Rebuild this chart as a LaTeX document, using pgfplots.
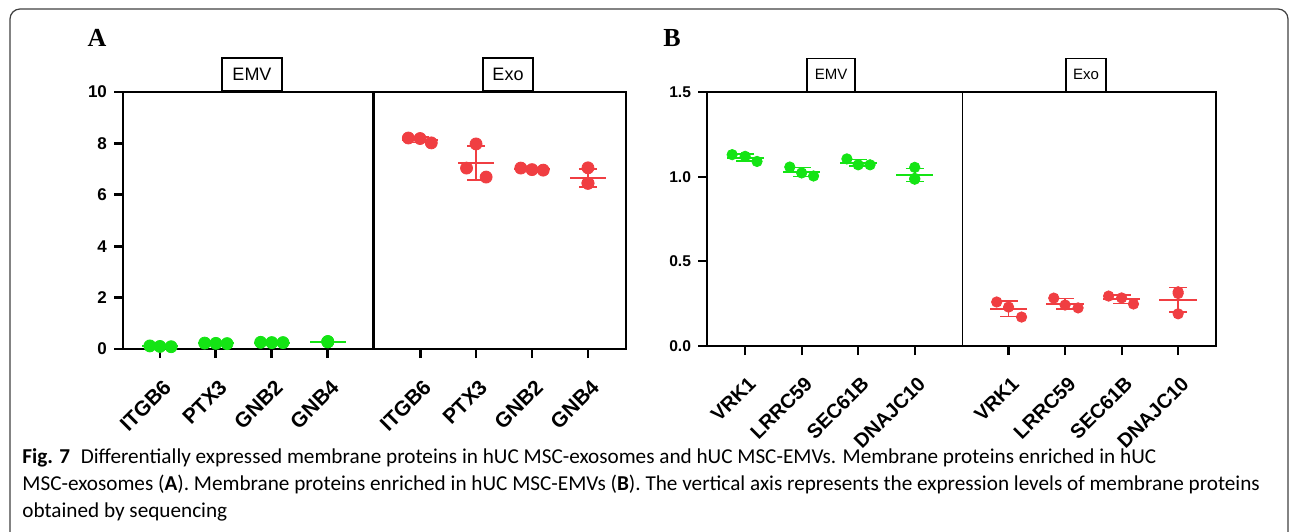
\documentclass[border=0pt]{standalone}
\usepackage{fontspec}
\setmainfont{Liberation Sans}
\newfontfamily\capfont{Carlito}
\newfontfamily\letterfont{Liberation Serif}
\usepackage{pgfplots}
\pgfplotsset{compat=1.18}

\definecolor{emvgreen}{RGB}{20,228,20}
\definecolor{exored}{RGB}{240,62,66}

\pgfplotsset{
  panel/.style={
    scale only axis, clip=false,
    axis line style={line width=1.4pt},
    tick align=outside, xtick pos=bottom, ytick pos=left,
    major tick length=4.5pt,
    major tick style={line width=1.4pt, black},
    /pgf/number format/assume math mode=true,
    xticklabel style={xshift=1pt, yshift=-8.5pt, rotate=45, anchor=north east,
      inner sep=1pt, font=\bfseries\fontsize{10.5}{12}\selectfont},
    yticklabel style={font=\bfseries\fontsize{8.5}{10}\selectfont},
  },
  dots/.style={only marks, mark=*, mark size=#1, mark options={draw=none}},
  meanline/.style={draw=none, mark=none,
    error bars/.cd, x dir=both, x explicit, error mark=none,
    error bar style={draw=#1, line width=1pt}},
  sdbar/.style={draw=none, mark=none,
    error bars/.cd, y dir=both, y explicit, error mark=-,
    error mark options={rotate=90, mark size=4.5pt, line width=0.8pt, draw=#1},
    error bar style={draw=#1, line width=0.8pt}},
}

\begin{document}
\begin{tikzpicture}
\useasboundingbox (0,0) rectangle (646pt,-265.5pt);
\draw[black!75, line width=0.6pt, rounded corners=5pt]
  (5pt,-270pt) -- (5pt,-4.5pt) -- (644pt,-4.5pt) -- (644pt,-270pt);

% ---------------- panel A ----------------
\node[font=\letterfont\bfseries\fontsize{13}{14}\selectfont] at (48.5pt,-19pt) {A};
\begin{axis}[panel,
  at={(61.5pt,-174.5pt)}, anchor=south west,
  width=251.5pt, height=128.5pt,
  xmin=0.34, xmax=9.33, ymin=0, ymax=10,
  ytick={0,2,4,6,8,10},
  xtick={1,2,3,4,5.65,6.65,7.65,8.65},
  xticklabels={ITGB6,PTX3,GNB2,GNB4,ITGB6,PTX3,GNB2,GNB4},
]
\draw[line width=1.3pt] (axis cs:4.82,0) -- (axis cs:4.82,10);
% EMV
\addplot[dots=3pt, emvgreen] coordinates {
  (0.82,0.12) (1,0.10) (1.2,0.09)
  (1.8,0.23) (2,0.22) (2.2,0.21)
  (2.8,0.26) (3,0.25) (3.2,0.25)
  (4,0.29) (4,0.28) (4,0.28)};
\addplot[meanline=emvgreen] coordinates {
  (1,0.103) +- (0.32,0) (2,0.22) +- (0.32,0)
  (3,0.253) +- (0.32,0) (4,0.283) +- (0.32,0)};
\addplot[sdbar=emvgreen] coordinates {
  (1,0.103) +- (0,0.015) (2,0.22) +- (0,0.01)
  (3,0.253) +- (0,0.006) (4,0.283) +- (0,0.006)};
% Exo
\addplot[dots=3pt, exored] coordinates {
  (5.44,8.21) (5.65,8.19) (5.85,8.02)
  (6.48,7.04) (6.65,7.98) (6.83,6.69)
  (7.45,7.04) (7.65,6.98) (7.85,6.96)
  (8.65,7.05) (8.65,6.45) (8.65,6.45)};
\addplot[meanline=exored] coordinates {
  (5.65,8.14) +- (0.32,0) (6.65,7.24) +- (0.32,0)
  (7.65,6.99) +- (0.32,0) (8.65,6.65) +- (0.32,0)};
\addplot[sdbar=exored] coordinates {
  (5.65,8.14) +- (0,0.104) (6.65,7.24) +- (0,0.667)
  (7.65,6.99) +- (0,0.04) (8.65,6.65) +- (0,0.346)};
\end{axis}
\node[draw, line width=1pt, minimum width=30pt, minimum height=16.5pt, inner sep=0pt,
  anchor=south, font=\fontsize{9}{10}\selectfont] at (126pt,-46pt) {EMV};
\node[draw, line width=1pt, minimum width=25pt, minimum height=16.5pt, inner sep=0pt,
  anchor=south, font=\fontsize{9}{10}\selectfont] at (254pt,-46pt) {Exo};

% ---------------- panel B ----------------
\node[font=\letterfont\bfseries\fontsize{13}{14}\selectfont] at (336pt,-19pt) {B};
\begin{axis}[panel,
  at={(353.5pt,-173pt)}, anchor=south west,
  width=254.5pt, height=127pt,
  axis line style={line width=1.1pt},
  major tick style={line width=1.1pt, black},
  xmin=0.325, xmax=9.33, ymin=0, ymax=1.5,
  ytick={0,0.5,1,1.5},
  yticklabel style={/pgf/number format/fixed, /pgf/number format/fixed zerofill,
    /pgf/number format/precision=1, font=\bfseries\fontsize{7.8}{9}\selectfont},
  xtick={1,2,3,4,5.66,6.66,7.66,8.66},
  xticklabels={VRK1,LRRC59,SEC61B,DNAJC10,VRK1,LRRC59,SEC61B,DNAJC10},
  xticklabel style={font=\bfseries\fontsize{10}{12}\selectfont},
]
\draw[line width=0.7pt] (axis cs:4.85,0) -- (axis cs:4.85,1.5);
% EMV
\addplot[dots=2.6pt, emvgreen] coordinates {
  (0.77,1.13) (1,1.12) (1.21,1.09)
  (1.79,1.057) (2,1.022) (2.21,1.004)
  (2.8,1.105) (3,1.07) (3.21,1.07)
  (4,1.055) (4,0.985) (4,0.99)};
\addplot[meanline=emvgreen] coordinates {
  (1,1.113) +- (0.33,0) (2,1.028) +- (0.33,0)
  (3,1.082) +- (0.33,0) (4,1.01) +- (0.33,0)};
\addplot[sdbar=emvgreen] coordinates {
  (1,1.113) +- (0,0.021) (2,1.028) +- (0,0.027)
  (3,1.082) +- (0,0.02) (4,1.01) +- (0,0.039)};
% Exo
\addplot[dots=2.6pt, exored] coordinates {
  (5.45,0.26) (5.66,0.23) (5.89,0.171)
  (6.46,0.283) (6.66,0.242) (6.89,0.225)
  (7.43,0.295) (7.66,0.284) (7.87,0.248)
  (8.66,0.32) (8.66,0.19) (8.66,0.31)};
\addplot[meanline=exored] coordinates {
  (5.66,0.22) +- (0.33,0) (6.66,0.25) +- (0.33,0)
  (7.66,0.276) +- (0.33,0) (8.66,0.273) +- (0.33,0)};
\addplot[sdbar=exored] coordinates {
  (5.66,0.22) +- (0,0.045) (6.66,0.25) +- (0,0.03)
  (7.66,0.276) +- (0,0.025) (8.66,0.273) +- (0,0.072)};
\end{axis}
\node[draw, line width=0.7pt, minimum width=24pt, minimum height=16.5pt, inner sep=0pt,
  anchor=south, font=\fontsize{7.5}{9}\selectfont] at (415.5pt,-46pt) {EMV};
\node[draw, line width=0.7pt, minimum width=20pt, minimum height=16.5pt, inner sep=0pt,
  anchor=south, font=\fontsize{7.5}{9}\selectfont] at (543pt,-46pt) {Exo};

% ---------------- caption ----------------
\node[anchor=base west, align=left, inner sep=0pt,
  font=\capfont\fontsize{10.6}{13.5}\selectfont] at (11pt,-258.5pt)
  {\textbf{Fig. 7}\enspace Differentially expressed membrane proteins in hUC MSC-exosomes and hUC MSC-EMVs. Membrane proteins enriched in hUC\\
   MSC-exosomes (\textbf{A}). Membrane proteins enriched in hUC MSC-EMVs (\textbf{B}). The vertical axis represents the expression levels of membrane proteins\\
   obtained by sequencing};
\end{tikzpicture}
\end{document}
